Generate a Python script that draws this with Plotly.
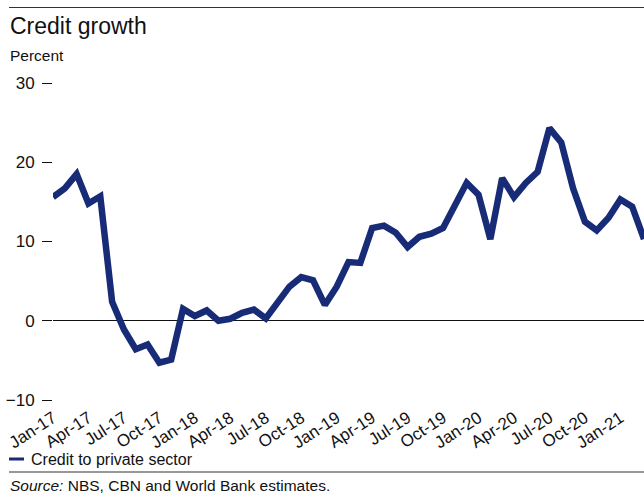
import plotly.graph_objects as go

# Monthly credit growth to the private sector, Jan-2017 .. Mar-2021 (percent, y/y)
months = [f"{m}-{y}" for y in ("17", "18", "19", "20", "21")
          for m in ("Jan", "Feb", "Mar", "Apr", "May", "Jun",
                    "Jul", "Aug", "Sep", "Oct", "Nov", "Dec")][:51]
credit_private = [
    15.6, 16.7, 18.5, 14.8, 15.7, 2.4, -1.1, -3.6, -3.0, -5.3, -4.9, 1.5,
    0.6, 1.3, 0.0, 0.25, 1.0, 1.4, 0.3, 2.3, 4.3, 5.5, 5.1, 2.0,
    4.3, 7.4, 7.3, 11.7, 12.0, 11.1, 9.3, 10.6, 11.0, 11.7, 14.4, 17.4,
    15.9, 10.3, 18.0, 15.6, 17.4, 18.8, 24.3, 22.5, 16.7, 12.5, 11.4, 13.0,
    15.3, 14.4, 10.3,
]
x_ticks = months[::3]
y_ticks = [-10, 0, 10, 20, 30]

NAVY = "#172B77"
FONT = "Liberation Sans, Arial, sans-serif"

W, H = 644, 493
L, R, T, B = 53, 0, 83, 93
plot_h = H - T - B


def py(pixel_y):
    """Convert a pixel row of the page into paper y coordinates."""
    return (H - B - pixel_y) / plot_h


def px(pixel_x):
    return (pixel_x - L) / (W - L - R)


fig = go.Figure()
fig.add_trace(go.Scatter(
    x=list(range(len(credit_private))),
    y=credit_private,
    mode="lines",
    line=dict(color=NAVY, width=6.5),
    name="Credit to private sector",
    showlegend=False,
))

fig.update_layout(
    width=W, height=H,
    margin=dict(l=L, r=R, t=T, b=B, pad=0),
    paper_bgcolor="white", plot_bgcolor="white",
    font=dict(family=FONT, color="#111111", size=16),
    xaxis=dict(
        range=[0, 50],
        tickmode="array",
        tickvals=[months.index(t) for t in x_ticks],
        ticktext=x_ticks,
        tickangle=-33,
        ticklabelstandoff=4,
        showgrid=False, zeroline=False, showline=False,
        ticks="", tickfont=dict(size=17),
    ),
    yaxis=dict(
        range=[-10, 30],
        tickvals=y_ticks,
        showgrid=False,
        zeroline=True, zerolinecolor="#111111", zerolinewidth=1.2,
        showline=False,
        ticks="outside", ticklen=10, tickwidth=1.2, tickcolor="#111111",
        ticklabelstandoff=4,
        tickfont=dict(size=17),
    ),
)

shapes = [
    # top rule
    dict(type="line", xref="paper", yref="paper",
         x0=px(9), x1=px(644), y0=py(7.5), y1=py(7.5),
         line=dict(color="#333333", width=1.2)),
    # rule above the source note
    dict(type="line", xref="paper", yref="paper",
         x0=px(9), x1=px(644), y0=py(472), y1=py(472),
         line=dict(color="#333333", width=1.2)),
    # legend key
    dict(type="line", xref="paper", yref="paper",
         x0=px(9), x1=px(24), y0=py(459), y1=py(459),
         line=dict(color=NAVY, width=3)),
]
fig.update_layout(shapes=shapes)

annotations = [
    dict(text="Credit growth", x=px(8), y=py(26), xanchor="left", yanchor="middle",
         font=dict(size=23)),
    dict(text="Percent", x=px(8), y=py(55), xanchor="left", yanchor="middle",
         font=dict(size=15.5)),
    dict(text="Credit to private sector", x=px(29), y=py(459),
         xanchor="left", yanchor="middle", font=dict(size=16)),
    dict(text="<i>Source:</i> NBS, CBN and World Bank estimates.", x=px(8), y=py(485),
         xanchor="left", yanchor="middle", font=dict(size=15.5)),
]
for a in annotations:
    a.update(xref="paper", yref="paper", showarrow=False)
fig.update_layout(annotations=annotations)

fig.write_html("out.html")
